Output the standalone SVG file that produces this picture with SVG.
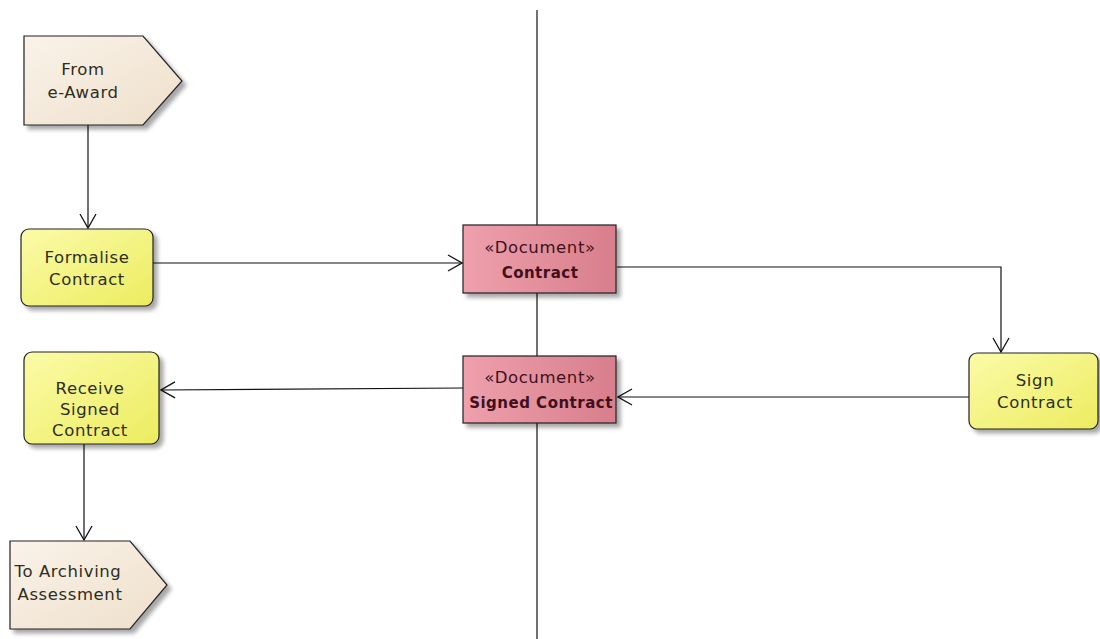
<svg xmlns="http://www.w3.org/2000/svg" width="1100" height="639" viewBox="0 0 1100 639">
  <defs>
    <linearGradient id="gAct" x1="0" y1="0" x2="1" y2="1">
      <stop offset="0" stop-color="#fbfba8"/>
      <stop offset="1" stop-color="#ecec60"/>
    </linearGradient>
    <linearGradient id="gDoc" x1="0" y1="0" x2="1" y2="0">
      <stop offset="0" stop-color="#eea0ac"/>
      <stop offset="1" stop-color="#d87e8c"/>
    </linearGradient>
    <linearGradient id="gEvt" x1="0" y1="0" x2="1" y2="1">
      <stop offset="0" stop-color="#faf3ea"/>
      <stop offset="1" stop-color="#eedfca"/>
    </linearGradient>
    <filter id="shadow" x="-10%" y="-10%" width="130%" height="130%">
      <feGaussianBlur in="SourceAlpha" stdDeviation="2"/>
      <feOffset dx="4" dy="4"/>
      <feComponentTransfer><feFuncA type="linear" slope="0.35"/></feComponentTransfer>
      <feMerge><feMergeNode/><feMergeNode in="SourceGraphic"/></feMerge>
    </filter>
    <marker id="open" viewBox="0 0 16 18" refX="15" refY="9" markerWidth="16" markerHeight="18" markerUnits="userSpaceOnUse" orient="auto">
      <path d="M1,1 L15,9 L1,17" fill="none" stroke="#111" stroke-width="1.3"/>
    </marker>
  </defs>
  <style>
    .lane { stroke: #111; stroke-width: 1.2; }
    .edge { fill: none; stroke: #111; stroke-width: 1.2; marker-end: url(#open); }
    .act { fill: url(#gAct); stroke: #222; stroke-width: 1.2; filter: url(#shadow); }
    .doc { fill: url(#gDoc); stroke: #222; stroke-width: 1.2; filter: url(#shadow); }
    .evt { fill: url(#gEvt); stroke: #222; stroke-width: 1.2; filter: url(#shadow); }
    text { font-family: "DejaVu Sans", "Liberation Sans", sans-serif; font-size: 16.5px; letter-spacing: 0.6px; fill: #2e2e20; text-anchor: middle; }
    .dtxt { fill: #40101c; }
    .bold { font-weight: bold; font-size: 15px; letter-spacing: 0.5px; }
  </style>

  <rect width="1100" height="639" fill="#ffffff"/>

  <!-- partition divider -->
  <line class="lane" x1="537" y1="10" x2="537" y2="639"/>

  <g id="connectors">
    <path class="edge" d="M88,125 L88,228"/>
    <path class="edge" d="M153,263 L462,263"/>
    <path class="edge" d="M617,267 L1001,267 L1001,352"/>
    <path class="edge" d="M969,397 L618,397"/>
    <path class="edge" d="M463,388 L161,390"/>
    <path class="edge" d="M84,444 L84,540"/>
  </g>

  <g id="from-e-award">
    <path class="evt" d="M24,36 L143,36 L182,81 L143,125 L24,125 Z"/>
    <text x="83" y="75">From</text>
    <text x="83" y="98">e-Award</text>
  </g>

  <g id="formalise-contract">
    <rect class="act" x="21" y="229" width="132" height="77" rx="8"/>
    <text x="87" y="263">Formalise</text>
    <text x="87" y="285">Contract</text>
  </g>

  <g id="doc-contract">
    <rect class="doc" x="463" y="225" width="153" height="68"/>
    <text class="dtxt" x="540" y="253">«Document»</text>
    <text class="dtxt bold" x="540" y="278">Contract</text>
  </g>

  <g id="sign-contract">
    <rect class="act" x="969" y="353" width="129" height="76" rx="8"/>
    <text x="1035" y="386">Sign</text>
    <text x="1035" y="408">Contract</text>
  </g>

  <g id="doc-signed-contract">
    <rect class="doc" x="463" y="356" width="153" height="67"/>
    <text class="dtxt" x="540" y="383">«Document»</text>
    <text class="dtxt bold" x="541" y="408">Signed Contract</text>
  </g>

  <g id="receive-signed-contract">
    <rect class="act" x="24" y="352" width="135" height="92" rx="8"/>
    <text x="90" y="394">Receive</text>
    <text x="90" y="415">Signed</text>
    <text x="90" y="436">Contract</text>
  </g>

  <g id="to-archiving-assessment">
    <path class="evt" d="M10,541 L130,541 L167,585 L130,629 L10,629 Z"/>
    <text x="68" y="577">To Archiving</text>
    <text x="70" y="600">Assessment</text>
  </g>
</svg>
